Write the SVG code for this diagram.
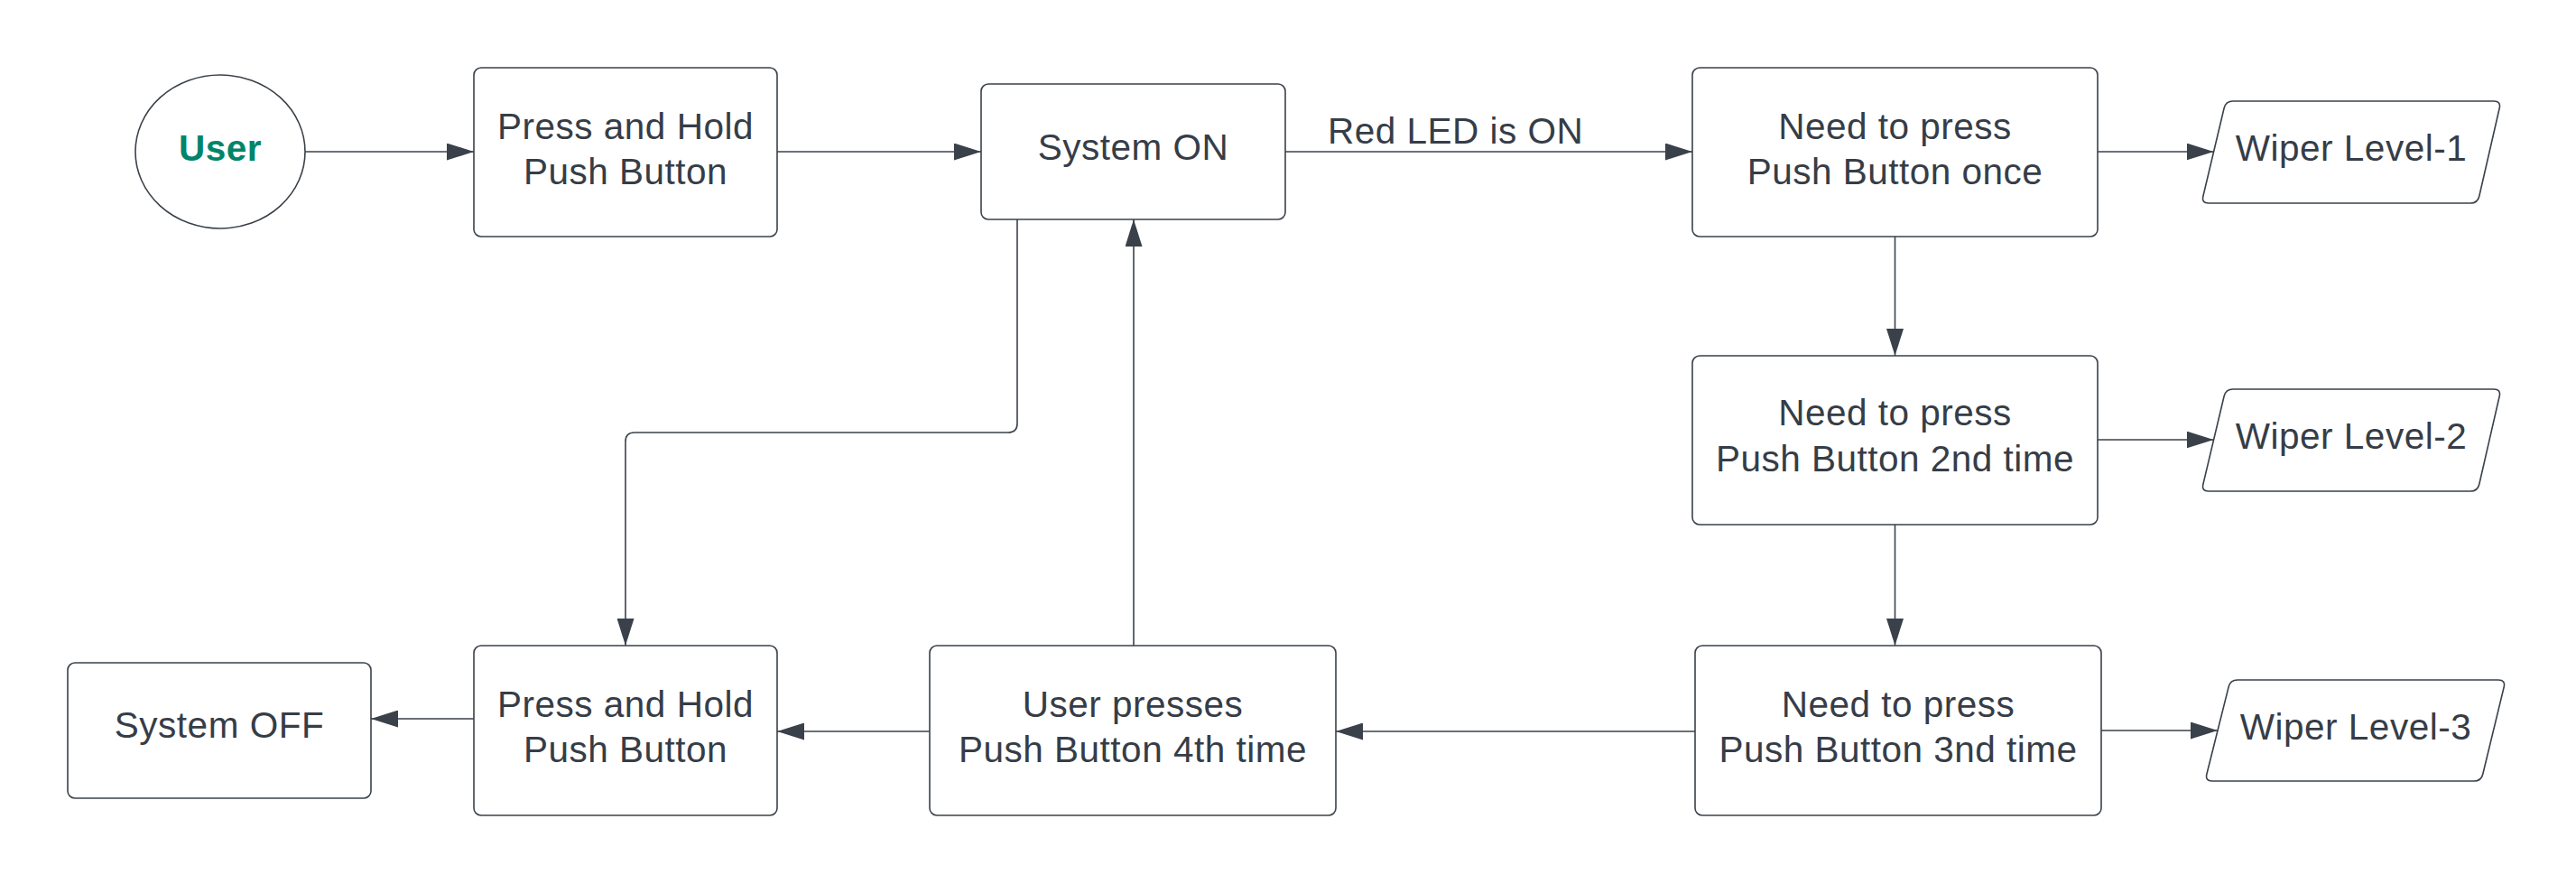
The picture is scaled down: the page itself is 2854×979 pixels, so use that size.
<svg xmlns="http://www.w3.org/2000/svg" width="2854" height="979" viewBox="0 0 2854 979">
<defs>
<style>
.box{fill:#ffffff;stroke:#3a414a;stroke-width:1.6}
.t{font-family:"Liberation Sans",Arial,Helvetica,sans-serif;font-size:40.5px;letter-spacing:0.5px;fill:#363d47;text-anchor:middle}
.lbl{text-anchor:start}
.user{font-weight:bold;fill:#00856a;letter-spacing:0.5px}
.c{fill:none;stroke:#3a414a;stroke-width:1.6}
</style>
<marker id="ah" markerUnits="userSpaceOnUse" markerWidth="30" markerHeight="19" refX="30" refY="9.5" orient="auto" viewBox="0 0 30 19">
<path d="M0,0 L30,9.5 L0,19 Z" fill="#3a414a"/>
</marker>
</defs>
<rect width="2854" height="979" fill="#ffffff"/>

<g id="connectors">
<path class="c" d="M338,168 H525" marker-end="url(#ah)"/>
<path class="c" d="M861,168 H1087" marker-end="url(#ah)"/>
<path class="c" d="M1424,168 H1875" marker-end="url(#ah)"/>
<path class="c" d="M2324,168 H2452.6" marker-end="url(#ah)"/>
<path class="c" d="M2099.5,262 V394" marker-end="url(#ah)"/>
<path class="c" d="M2324,487 H2452.6" marker-end="url(#ah)"/>
<path class="c" d="M2099.5,581 V715" marker-end="url(#ah)"/>
<path class="c" d="M2328,809 H2457" marker-end="url(#ah)"/>
<path class="c" d="M1878,810 H1480" marker-end="url(#ah)"/>
<path class="c" d="M1256,715 V243" marker-end="url(#ah)"/>
<path class="c" d="M1127,243 V469 Q1127,479 1117,479 H703 Q693,479 693,489 V715" marker-end="url(#ah)"/>
<path class="c" d="M525,796 H411" marker-end="url(#ah)"/>
<path class="c" d="M1030,810 H861" marker-end="url(#ah)"/>
<text class="t lbl" x="1471" y="159">Red LED is ON</text>
</g>

<g id="user">
<ellipse class="box" cx="244" cy="168" rx="94" ry="85"/>
<text class="t user" x="244" y="178">User</text>
</g>

<g id="press-hold-1">
<rect class="box" x="525" y="75" width="336" height="187" rx="8"/>
<text class="t"><tspan x="693" y="154">Press and Hold</tspan><tspan x="693" y="204">Push Button</tspan></text>
</g>

<g id="system-on">
<rect class="box" x="1087" y="93" width="337" height="150" rx="8"/>
<text class="t" x="1255.5" y="177">System ON</text>
</g>

<g id="need-1">
<rect class="box" x="1875" y="75" width="449" height="187" rx="8"/>
<text class="t"><tspan x="2099.5" y="154">Need to press</tspan><tspan x="2099.5" y="204">Push Button once</tspan></text>
</g>

<g id="need-2">
<rect class="box" x="1875" y="394" width="449" height="187" rx="8"/>
<text class="t"><tspan x="2099.5" y="471">Need to press</tspan><tspan x="2099.5" y="522">Push Button 2nd time</tspan></text>
</g>

<g id="need-3">
<rect class="box" x="1878" y="715" width="450" height="188" rx="8"/>
<text class="t"><tspan x="2103" y="794">Need to press</tspan><tspan x="2103" y="844">Push Button 3nd time</tspan></text>
</g>

<g id="user-presses">
<rect class="box" x="1030" y="715" width="450" height="188" rx="8"/>
<text class="t"><tspan x="1255" y="793.5">User presses</tspan><tspan x="1255" y="843.5">Push Button 4th time</tspan></text>
</g>

<g id="press-hold-2">
<rect class="box" x="525" y="715" width="336" height="188" rx="8"/>
<text class="t"><tspan x="693" y="794">Press and Hold</tspan><tspan x="693" y="844">Push Button</tspan></text>
</g>

<g id="system-off">
<rect class="box" x="75" y="734" width="336" height="150" rx="8"/>
<text class="t" x="243" y="817">System OFF</text>
</g>

<g id="wiper-1">
<path class="box" d="M2474,112 L2763,112 Q2771,112 2769.2,119.8 L2746.8,217.2 Q2745,225 2737,225 L2447,225 Q2439,225 2440.9,217.2 L2464.1,119.8 Q2466,112 2474,112 Z"/>
<text class="t" x="2605" y="178">Wiper Level-1</text>
</g>

<g id="wiper-2">
<path class="box" d="M2474,431 L2763,431 Q2771,431 2769.2,438.8 L2746.8,536.2 Q2745,544 2737,544 L2447,544 Q2439,544 2440.9,536.2 L2464.1,438.8 Q2466,431 2474,431 Z"/>
<text class="t" x="2605" y="497">Wiper Level-2</text>
</g>

<g id="wiper-3">
<path class="box" d="M2479,753 L2768,753 Q2776,753 2774.2,760.8 L2750.8,857.2 Q2749,865 2741,865 L2451,865 Q2443,865 2444.9,857.2 L2469.1,760.8 Q2471,753 2479,753 Z"/>
<text class="t" x="2610" y="819">Wiper Level-3</text>
</g>
</svg>
